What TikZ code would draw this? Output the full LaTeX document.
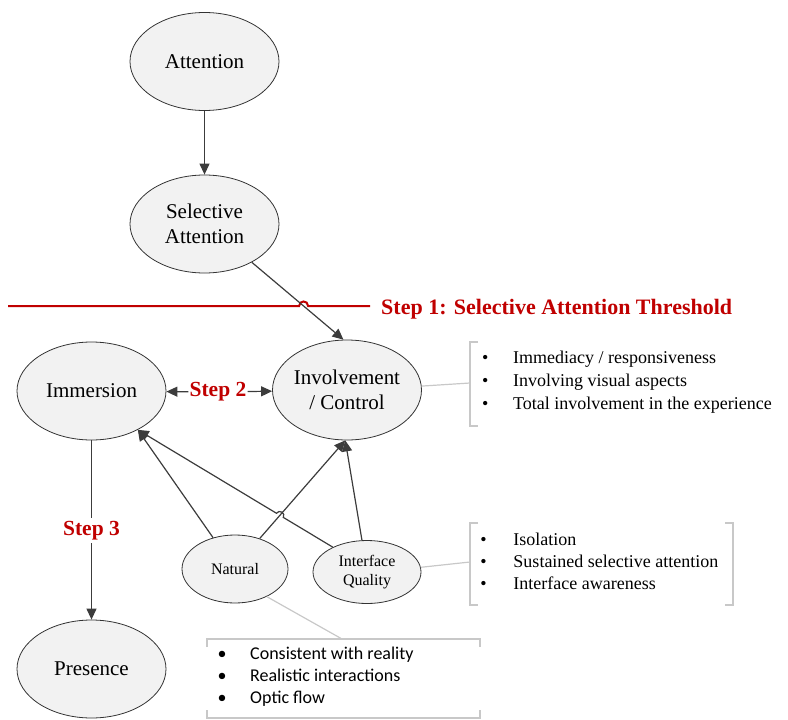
\documentclass[tikz,border=0pt]{standalone}
\usepackage{fontspec}
\setmainfont{Liberation Serif}
\newfontfamily\sansf{Carlito}
\usetikzlibrary{shapes.geometric,arrows.meta,intersections,calc}
\definecolor{stepred}{RGB}{192,0,0}
\definecolor{edgegray}{RGB}{60,60,60}
\definecolor{ellfill}{RGB}{242,242,242}
\definecolor{brk}{RGB}{200,200,200}
\newcommand{\lstbul}{\makebox[12pt]{\textbullet}}
\begin{document}
\begin{tikzpicture}[x=1pt,y=-1pt,
  ell/.style={ellipse, draw=black!80, line width=0.8pt, fill=ellfill, inner xsep=-4pt, inner ysep=0pt, align=center},
  bigell/.style={ell, font=\fontsize{21}{25}\selectfont, minimum width=149pt, minimum height=98pt},
  smallell/.style={ell, font=\fontsize{16}{18.5}\selectfont},
  conn/.style={draw=edgegray, line width=1.2pt, -{Triangle[length=11pt,width=10pt]}},
  plainconn/.style={draw=edgegray, line width=1.2pt},
  steplbl/.style={text=stepred, font=\bfseries\fontsize{21.5}{24}\selectfont, inner sep=1pt},
  callout/.style={draw=brk, line width=1.2pt},
  bracket/.style={draw=brk, line width=1.5pt},
  listtxt/.style={inner sep=0pt, anchor=west}
]
\useasboundingbox (0,0) rectangle (788,720);

% ellipses
\node[bigell] (att) at (204.5,61.5) {Attention};
\node[bigell] (sel) at (204.5,224) {Selective\\Attention};
\node[bigell] (imm) at (91.5,391) {Immersion};
\node[bigell, minimum height=100pt] (inv) at (347,390) {Involvement\\/ Control};
\node[bigell] (pres) at (91.5,669) {Presence};
\node[smallell, minimum width=106pt, minimum height=68pt] (nat) at (235,569) {Natural};
\node[smallell, minimum width=108pt, minimum height=63pt] (iq) at (367,572) {Interface\\Quality};

% threshold line with hop
\path[name path=selinv] (sel.-39) -- (inv.94);
\path[name path=thrline] (8,306) -- (370,306);
\path[name intersections={of=selinv and thrline, by=hopA}];
\draw[stepred, line width=2pt] (8,306) -- ($(hopA)+(-4.5,0)$)
  .. controls ($(hopA)+(-4.5,-6)$) and ($(hopA)+(4.5,-6)$) .. ($(hopA)+(4.5,0)$) -- (370,306);
\node[steplbl, font=\bfseries\fontsize{22}{24}\selectfont, anchor=base west, inner sep=0pt] (s1) at (381,314) {Step 1: Selective Attention Threshold};

% main connectors
\draw[conn] (att) -- (sel);
\draw[conn] (sel.-39) -- (inv.94);

\node[steplbl] (s2) at (218,392) {Step 2};
\draw[conn] (s2) -- (imm);
\draw[conn] (s2) -- (inv);

\node[steplbl, inner sep=3pt] (s3) at (91.5,530.5) {Step 3};
\draw[plainconn] (imm) -- (s3);
\draw[conn] (s3) -- (pres);

% factor connectors
\path[name path=natinv] (nat.51.5) -- (inv.-92);
\path[name path=iqimm] (iq.144) -- (imm.-40);
\path[name intersections={of=natinv and iqimm, by=hopB}];
\draw[conn] (nat.125.7) -- (imm.-40);
\draw[conn] (nat.51.5) -- (inv.-92);
\coordinate (hp1) at ($(hopB)!4pt!(iq.144)$);
\coordinate (hp2) at ($(hopB)!4pt!(imm.-40)$);
\draw[conn] (iq.144) -- (hp1) .. controls ($(hp1)!5pt!-90:(hopB)$) and ($(hp2)!5pt!90:(hopB)$) .. (hp2) -- (imm.-40);
\draw[conn] (iq.99) -- (inv.-92);

% list 1 (involvement)
\draw[bracket] (478,342) -- (470,342) -- (470,426) -- (478,426);
\coordinate (b1) at (470,383);
\draw[callout] (inv.3) -- (b1);
\node[listtxt, font=\fontsize{18}{23}\selectfont] (l1) at (479,382)
  {\begin{tabular}{@{}l@{\hspace{22pt}}l@{}}
   \lstbul & Immediacy / responsiveness\\
   \lstbul & Involving visual aspects\\
   \lstbul & Total involvement in the experience
   \end{tabular}};

% list 2 (interface quality)
\draw[bracket] (478,523) -- (470,523) -- (470,605) -- (478,605);
\draw[bracket] (725,523) -- (733,523) -- (733,605) -- (725,605);
\coordinate (b2) at (470,562);
\draw[callout] (iq.5) -- (b2);
\node[listtxt, font=\fontsize{18}{21.7}\selectfont] (l2) at (477.3,563.3)
  {\begin{tabular}{@{}l@{\hspace{24pt}}l@{}}
   \lstbul & Isolation\\
   \lstbul & Sustained selective attention\\
   \lstbul & Interface awareness
   \end{tabular}};

% list 3 (natural)
\draw[bracket] (207,647) -- (207,639) -- (480,639) -- (480,647);
\draw[bracket] (207,710) -- (207,718) -- (480,718) -- (480,710);
\coordinate (b3) at (342,639);
\draw[callout] (nat.-41) -- (b3);
\node[listtxt, font=\sansf\fontsize{18}{22}\selectfont] (l3) at (216,677)
  {\begin{tabular}{@{}l@{\hspace{22pt}}l@{}}
   \lstbul & Consistent with reality\\
   \lstbul & Realistic interactions\\
   \lstbul & Optic flow
   \end{tabular}};
\end{tikzpicture}
\end{document}
